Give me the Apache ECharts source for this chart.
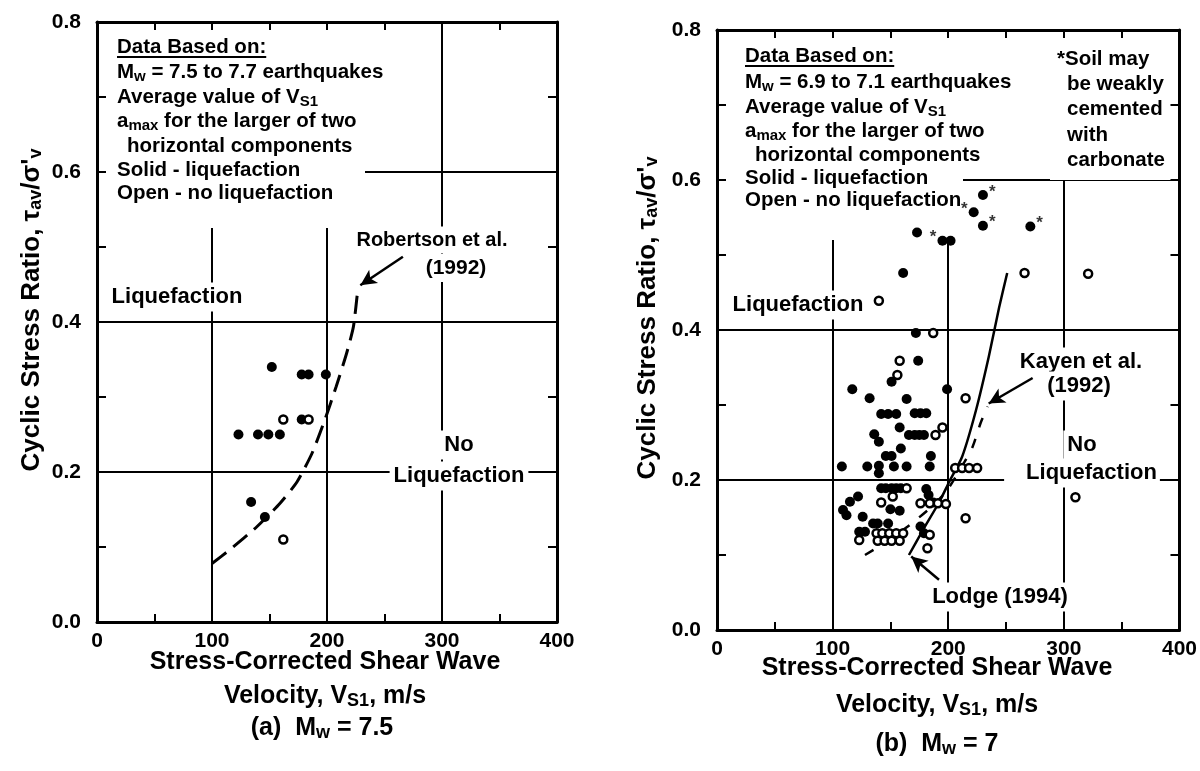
<!DOCTYPE html>
<html><head><meta charset="utf-8">
<script src="https://cdn.jsdelivr.net/npm/echarts@6/dist/echarts.min.js"></script>
<style>html,body{margin:0;padding:0;background:#fff}#c{width:1200px;height:771px}</style>
</head><body><div id="c"></div>
<script>
// ---------- axis ticks ----------
const xTickLabels = ['0', '100', '200', '300', '400'];
const yTickLabels = ['0.0', '0.2', '0.4', '0.6', '0.8'];

// ---------- panel (a) Mw = 7.5 ----------
const aSolid = [[152,0.34],[178,0.33],[184,0.33],[199,0.33],[123,0.25],[140,0.25],[149,0.25],[159,0.25],[178,0.27],[134,0.16],[146,0.14]];
const aOpen = [[162,0.27],[184,0.27],[162,0.11]];
const aRobertson = [[100,0.078],[116,0.097],[139,0.127],[159,0.158],[174,0.187],[187,0.225],[198,0.269],[208,0.314],[217,0.358],[223,0.394],[227,0.447]];
const aRobertsonArrow = [[266,0.487],[229,0.449]];

// ---------- panel (b) Mw = 7 ----------
const bSolid = [[173,0.53],[195,0.519],[202,0.519],[222,0.557],[230,0.58],[230,0.539],[271,0.538],
  [161,0.476],[172,0.396],[174,0.359],[151,0.331],[117,0.321],[199,0.321],[132,0.309],[164,0.308],
  [142,0.288],[148,0.288],[155,0.288],[171,0.289],[176,0.289],[181,0.289],
  [158,0.27],[136,0.261],[140,0.251],[166,0.26],[171,0.26],[175,0.26],[179,0.26],
  [159,0.242],[146,0.232],[151,0.232],[185,0.232],
  [108,0.218],[130,0.218],[140,0.219],[140,0.209],[153,0.218],[164,0.218],[184,0.218],
  [142,0.189],[146,0.189],[151,0.189],[155,0.189],[159,0.189],[181,0.188],[183,0.18],
  [150,0.161],[158,0.159],[115,0.171],[122,0.178],[109,0.16],[112,0.153],[126,0.151],[187,0.17],
  [135,0.142],[139,0.142],[148,0.142],[123,0.131],[128,0.131],[176,0.138],[179,0.129]];
const bOpen = [[266,0.476],[321,0.475],[140,0.439],[187,0.396],[158,0.359],[156,0.34],[215,0.309],
  [189,0.26],[195,0.27],[206,0.216],[212,0.216],[218,0.216],[225,0.216],[164,0.189],[152,0.178],
  [142,0.17],[176,0.169],[184,0.169],[191,0.169],[198,0.168],[215,0.149],[123,0.12],
  [138,0.129],[143,0.129],[149,0.129],[155,0.129],[161,0.129],[139,0.119],[145,0.119],[151,0.119],[158,0.119],
  [184,0.127],[182,0.109],[310,0.177]];
const bStarRight = [[230,0.58],[230,0.539],[271,0.538]];
const bStarLeft = [[222,0.557],[195,0.519]];
const bLodge = [[166,0.100],[178,0.133],[192,0.170],[201,0.198],[212,0.231],[224,0.293],[235,0.364],[244,0.430],[251,0.476]];
const bLodgeArrow = [[192,0.067],[168,0.098]];
const bKayen = [[128,0.100],[146,0.117],[165,0.138],[184,0.162],[198,0.184],[211,0.216],[221,0.244],[228,0.276],[234,0.298]];
const bKayenArrow = [[273,0.336],[235,0.302]];

// ---------- styling ----------
const FONT = "'Liberation Sans', Arial, Helvetica, sans-serif";
const BLACK = '#000';

const chart = echarts.init(document.getElementById('c'), null, {renderer: 'canvas'});

const grids = [
  {left: 97, right: 643, top: 22, bottom: 149},
  {left: 717, right: 19, top: 30, bottom: 141}
];

function xAxes(g) {
  const base = {type: 'value', gridIndex: g, min: 0, max: 400, interval: 100};
  return [
    Object.assign({}, base, {position: 'bottom', z: 5,
      axisLine: {onZero: false, lineStyle: {color: BLACK, width: 3}},
      axisTick: {inside: true, length: 8, lineStyle: {color: BLACK, width: 2}},
      minorTick: {show: true, splitNumber: 2, length: 8, lineStyle: {color: BLACK, width: 2}},
      axisLabel: {margin: 9, color: BLACK, fontFamily: FONT, fontWeight: 'bold', fontSize: 21,
        formatter: v => xTickLabels[Math.round(v / 100)]},
      splitLine: {show: false}}),
    Object.assign({}, base, {position: 'top', z: 5,
      axisLine: {onZero: false, lineStyle: {color: BLACK, width: 3}},
      axisTick: {inside: true, length: 8, lineStyle: {color: BLACK, width: 2}},
      minorTick: {show: true, splitNumber: 2, length: 8, lineStyle: {color: BLACK, width: 2}},
      axisLabel: {show: false}, splitLine: {show: false}}),
    Object.assign({}, base, {position: 'bottom', z: 0,
      axisLine: {show: false}, axisTick: {show: false}, axisLabel: {show: false},
      splitLine: {show: true, lineStyle: {color: BLACK, width: 2}}})
  ];
}
function yAxes(g, nameGap) {
  const base = {type: 'value', gridIndex: g, min: 0, max: 0.8, interval: 0.2};
  return [
    Object.assign({}, base, {position: 'left', z: 5,
      name: 'Cyclic Stress Ratio, τ{s|av}/σ\'{s|v}', nameLocation: 'middle', nameGap: nameGap, nameRotate: 90,
      nameTextStyle: {color: BLACK, fontFamily: FONT, fontWeight: 'bold', fontSize: 26,
        padding: [0, 0, 0, 24],
        rich: {s: {fontFamily: FONT, fontWeight: 'bold', fontSize: 18, color: BLACK, verticalAlign: 'bottom', lineHeight: 12}}},
      axisLine: {onZero: false, lineStyle: {color: BLACK, width: 3}},
      axisTick: {inside: true, length: 9, lineStyle: {color: BLACK, width: 2}},
      minorTick: {show: true, splitNumber: 2, length: 9, lineStyle: {color: BLACK, width: 2}},
      axisLabel: {margin: 16, color: BLACK, fontFamily: FONT, fontWeight: 'bold', fontSize: 21,
        formatter: v => yTickLabels[Math.round(v / 0.2)]},
      splitLine: {show: false}}),
    Object.assign({}, base, {position: 'right', z: 5,
      axisLine: {onZero: false, lineStyle: {color: BLACK, width: 3}},
      axisTick: {inside: true, length: 9, lineStyle: {color: BLACK, width: 2}},
      minorTick: {show: true, splitNumber: 2, length: 9, lineStyle: {color: BLACK, width: 2}},
      axisLabel: {show: false}, splitLine: {show: false}}),
    Object.assign({}, base, {position: 'left', z: 0,
      axisLine: {show: false}, axisTick: {show: false}, axisLabel: {show: false},
      splitLine: {show: true, lineStyle: {color: BLACK, width: 2}}})
  ];
}

function solidSeries(data, xi, yi) {
  return {type: 'scatter', xAxisIndex: xi, yAxisIndex: yi, data: data, symbol: 'circle', symbolSize: 10,
    itemStyle: {color: BLACK, opacity: 1}, z: 3};
}
function openSeries(data, xi, yi) {
  return {type: 'scatter', xAxisIndex: xi, yAxisIndex: yi, data: data, symbol: 'circle', symbolSize: 8,
    itemStyle: {color: '#fff', borderColor: BLACK, borderWidth: 2.5, opacity: 1}, z: 4};
}
function starSeries(data, xi, yi, pos) {
  return {type: 'scatter', xAxisIndex: xi, yAxisIndex: yi, data: data, symbol: 'circle', symbolSize: 2,
    itemStyle: {color: 'rgba(0,0,0,0)'}, z: 11,
    label: {show: true, position: pos, distance: 5, offset: [0, -3], formatter: '*', color: BLACK,
      fontFamily: FONT, fontWeight: 'bold', fontSize: 17}};
}
function curveSeries(data, xi, yi, lineType, width, arrow) {
  return {type: 'line', xAxisIndex: xi, yAxisIndex: yi, data: data, showSymbol: false, symbol: 'none',
    smooth: 0.2, z: 3, lineStyle: {color: BLACK, width: width, type: lineType},
    markLine: {silent: true, animation: false, symbol: ['none', 'arrow'], symbolSize: [12, 16],
      label: {show: false}, lineStyle: {color: BLACK, width: 2.5, type: 'solid'},
      data: [[{coord: arrow[0]}, {coord: arrow[1]}]]}};
}

// ---------- text helpers ----------
function rich(size) {
  return {s: {fontFamily: FONT, fontWeight: 'bold', fontSize: Math.round(size * 0.72), fill: BLACK,
    verticalAlign: 'bottom', lineHeight: Math.round(size * 0.55)}};
}
function txt(x, y, text, size, extra) {
  const st = Object.assign({
    text: text, fill: BLACK, fontFamily: FONT, fontWeight: 'bold', fontSize: size,
    font: 'bold ' + size + 'px ' + FONT,
    align: 'left', textAlign: 'left', verticalAlign: 'middle', textVerticalAlign: 'middle',
    lineHeight: Math.round(size * 1.15), rich: rich(size)
  }, extra || {});
  if (st.align) st.textAlign = st.align;
  return {type: 'text', x: x, y: y, z: 10, style: st};
}
function ctr(x, y, text, size, extra) {
  return txt(x, y, text, size, Object.assign({align: 'center'}, extra || {}));
}
const WB = {backgroundColor: '#fff', padding: [2, 4]};
function measure(text, size) {
  const c = document.createElement('canvas').getContext('2d');
  c.font = 'bold ' + size + 'px ' + FONT;
  return c.measureText(text).width;
}
function whiteRect(x1, y1, x2, y2) {
  return {type: 'rect', z: 1, shape: {x: x1, y: y1, width: x2 - x1, height: y2 - y1},
    style: {fill: '#fff'}};
}

const BOX = 20.5;
function boxLines(x, ys, mw) {
  const lines = [
    '{u|Data Based on:}',
    'M{s|w} = ' + mw + ' earthquakes',
    'Average value of V{s|S1}',
    'a{s|max} for the larger of two',
    'horizontal components',
    'Solid - liquefaction',
    'Open - no liquefaction'
  ];
  const out = [];
  lines.forEach((l, i) => {
    const ex = i === 0 ? {rich: Object.assign(rich(BOX), {u: {fontFamily: FONT, fontWeight: 'bold', fontSize: BOX, fill: BLACK}})} : {};
    out.push(txt(i === 4 ? x + 10 : x, ys[i], l, BOX, ex));
  });
  const w = measure('Data Based on:', BOX);
  out.push({type: 'line', z: 10, shape: {x1: x, y1: ys[0] + 10, x2: x + w, y2: ys[0] + 10},
    style: {stroke: BLACK, lineWidth: 2}});
  return out;
}

const graphics = [
  whiteRect(99, 24, 365, 228),
  whiteRect(719, 32, 963, 240),
  whiteRect(1050, 32, 1179, 180),
  ...boxLines(117, [47, 72, 97, 121, 146, 170, 193], '7.5 to 7.7'),
  ...boxLines(745, [56, 82, 107, 131, 155, 178, 200], '6.9 to 7.1'),
  txt(1057, 59, '*Soil may', BOX),
  txt(1067, 84, 'be weakly', BOX),
  txt(1067, 109, 'cemented', BOX),
  txt(1067, 135, 'with', BOX),
  txt(1067, 160, 'carbonate', BOX),
  // panel (a) annotations
  ctr(432, 240, 'Robertson et al.', 20, WB),
  ctr(456, 268, '(1992)', 21, WB),
  ctr(177, 297, 'Liquefaction', 22, WB),
  ctr(459, 445, 'No', 22, WB),
  ctr(459, 476, 'Liquefaction', 22, WB),
  // panel (b) annotations
  ctr(798, 305, 'Liquefaction', 22, WB),
  ctr(1081, 362, 'Kayen et al.', 22, WB),
  ctr(1079, 386, '(1992)', 22, WB),
  ctr(1082, 445, 'No', 22, WB),
  ctr(1082, 473, 'Liquefaction', 22, {backgroundColor: '#fff', padding: [2, 3, 2, 22]}),
  ctr(1000, 597, 'Lodge (1994)', 22, WB),
  // x titles
  ctr(325, 662, 'Stress-Corrected Shear Wave', 25),
  ctr(325, 696, 'Velocity, V{s|S1}, m/s', 25),
  ctr(322, 728, '(a)  M{s|w} = 7.5', 25),
  ctr(937, 668, 'Stress-Corrected Shear Wave', 25),
  ctr(937, 705, 'Velocity, V{s|S1}, m/s', 25),
  ctr(937, 744, '(b)  M{s|w} = 7', 25)
];

const option = {
  animation: false,
  backgroundColor: '#fff',
  grid: grids,
  xAxis: [...xAxes(0), ...xAxes(1)],
  yAxis: [...yAxes(0, 52), ...yAxes(1, 56)],
  series: [
    curveSeries(aRobertson, 0, 0, [18, 9], 3, aRobertsonArrow),
    solidSeries(aSolid, 0, 0),
    openSeries(aOpen, 0, 0),
    curveSeries(bLodge, 3, 3, 'solid', 2.5, bLodgeArrow),
    curveSeries(bKayen, 3, 3, [10, 12], 2.5, bKayenArrow),
    solidSeries(bSolid, 3, 3),
    openSeries(bOpen, 3, 3),
    starSeries(bStarRight, 3, 3, 'right'),
    starSeries(bStarLeft, 3, 3, 'left')
  ],
  graphic: {elements: graphics}
};
chart.setOption(option);
</script>
</body></html>
